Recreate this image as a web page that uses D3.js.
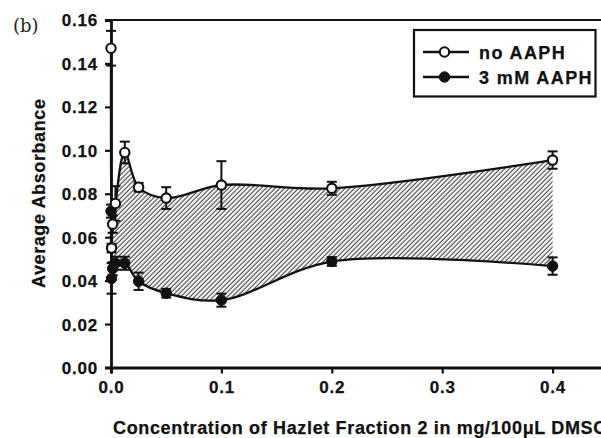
<!DOCTYPE html>
<html><head><meta charset="utf-8">
<script src="https://cdn.jsdelivr.net/npm/d3@7"></script>
<style>
html,body{margin:0;padding:0;background:#fff;}
svg{display:block;}
</style></head>
<body>
<svg id="chart" width="601" height="438"></svg>
<script>
// ---- data ----
const conc = [0, 0.0005, 0.0015, 0.004, 0.0125, 0.025, 0.05, 0.1, 0.2, 0.4];
const noAAPH = [0.147, 0.055, 0.066, 0.0755, 0.099, 0.083, 0.078, 0.084, 0.0825, 0.0955];
const noAAPHErr = [0.008, 0.002, 0.004, 0.008, 0.005, 0.002, 0.005, 0.011, 0.003, 0.004];
const aaph = [0.072, 0.041, 0.0455, 0.048, 0.048, 0.0397, 0.0342, 0.031, 0.0488, 0.0467];
const aaphErr = [0.003, 0.007, 0.003, 0.003, 0.003, 0.004, 0.002, 0.003, 0.002, 0.004];
const seriesNames = ["no AAPH", "3 mM AAPH"];
const xTicks = [0, 0.1, 0.2, 0.3, 0.4];
const yTicks = [0, 0.02, 0.04, 0.06, 0.08, 0.10, 0.12, 0.14, 0.16];
const xTitle = "Concentration of Hazlet Fraction 2 in mg/100μL DMSO";
const yTitle = "Average Absorbance";
const panelLabel = "(b)";

const SANS = "'Liberation Sans', Arial, Helvetica, sans-serif";
const INK = "#111";
const svg = d3.select("#chart");
const x = d3.scaleLinear().domain([0, 0.45]).range([111, 607.8]);
const y = d3.scaleLinear().domain([0, 0.16]).range([367.5, 20]);

function label(sel, size, ls) {
  return sel.style("font-family", SANS).style("font-weight", "bold").style("font-size", size + "px")
    .style("letter-spacing", ls + "px").style("fill", INK)
    .style("stroke", INK).style("stroke-width", "0.25px");
}

// hatch pattern
const defs = svg.append("defs");
const pat = defs.append("pattern").attr("id", "hatch").attr("patternUnits", "userSpaceOnUse")
  .attr("width", 3.3).attr("height", 10).attr("patternTransform", "rotate(45)");
pat.append("line").attr("x1", 1).attr("x2", 1).attr("y1", -1).attr("y2", 11)
  .attr("stroke", "#2a2a2a").attr("stroke-width", 1);

const upper = conc.map((c, i) => [x(c), y(noAAPH[i])]);
const lower = conc.map((c, i) => [x(c), y(aaph[i])]);
const line = d3.line().curve(d3.curveCatmullRom.alpha(0.5));
const pu = line(upper);
const pl = line(lower.slice().reverse());
svg.append("path").attr("d", pu + pl.replace(/^M/, "L") + "Z")
  .attr("fill", "url(#hatch)").attr("stroke", "none");

// frame: top border
svg.append("line").attr("x1", x(0)).attr("x2", x(0.45)).attr("y1", y(0.16)).attr("y2", y(0.16))
  .attr("stroke", INK).attr("stroke-width", 2.2);

// axes
const xAxis = d3.axisBottom(x).tickValues(xTicks).tickFormat(d3.format(".1f")).tickSizeOuter(0).tickSize(6).tickPadding(7);
const yAxis = d3.axisLeft(y).tickValues(yTicks).tickFormat(d3.format(".2f")).tickSizeOuter(0).tickSize(6).tickPadding(7);
const gx = svg.append("g").attr("transform", `translate(0,${y(0)})`).call(xAxis);
const gy = svg.append("g").attr("transform", `translate(${x(0)},0)`).call(yAxis);
[gx, gy].forEach(g => {
  g.select(".domain").attr("stroke", INK).attr("stroke-width", 2.8);
  g.selectAll(".tick line").attr("stroke", INK).attr("stroke-width", 2.2);
  label(g.selectAll(".tick text"), 17, 0.8);
});
gx.selectAll(".tick text").attr("dy", "0.71em");
gy.selectAll(".tick text").attr("dy", "0.35em");

// lines
svg.append("path").attr("d", pu).attr("fill", "none").attr("stroke", INK).attr("stroke-width", 2.3);
svg.append("path").attr("d", line(lower)).attr("fill", "none").attr("stroke", INK).attr("stroke-width", 2.3);

// error bars
function errBars(vals, errs) {
  const g = svg.append("g").attr("stroke", INK).attr("stroke-width", 2);
  conc.forEach((c, i) => {
    const cx = x(c), top = y(vals[i] + errs[i]), bot = y(vals[i] - errs[i]);
    g.append("line").attr("x1", cx).attr("x2", cx).attr("y1", top).attr("y2", bot);
    g.append("line").attr("x1", cx - 5).attr("x2", cx + 5).attr("y1", top).attr("y2", top);
    g.append("line").attr("x1", cx - 5).attr("x2", cx + 5).attr("y1", bot).attr("y2", bot);
  });
}
errBars(noAAPH, noAAPHErr);
errBars(aaph, aaphErr);

// symbols
svg.append("g").selectAll("circle").data(conc).join("circle")
  .attr("cx", d => x(d)).attr("cy", (d, i) => y(aaph[i])).attr("r", 5.2)
  .attr("fill", INK).attr("stroke", INK).attr("stroke-width", 1);
svg.append("g").selectAll("circle").data(conc).join("circle")
  .attr("cx", d => x(d)).attr("cy", (d, i) => y(noAAPH[i])).attr("r", 4.7)
  .attr("fill", "#fff").attr("stroke", INK).attr("stroke-width", 2.1);

// legend
const lg = svg.append("g");
lg.append("rect").attr("x", 414).attr("y", 30).attr("width", 181.5).attr("height", 66.5)
  .attr("fill", "#fff").attr("stroke", INK).attr("stroke-width", 2.2);
seriesNames.forEach((name, i) => {
  const ry = 52 + i * 25;
  lg.append("line").attr("x1", 423).attr("x2", 469).attr("y1", ry).attr("y2", ry)
    .attr("stroke", INK).attr("stroke-width", 2.3);
  lg.append("circle").attr("cx", 444.5).attr("cy", ry).attr("r", i === 0 ? 4.7 : 5.2)
    .attr("fill", i === 0 ? "#fff" : INK).attr("stroke", INK).attr("stroke-width", i === 0 ? 2.1 : 1);
  label(lg.append("text").attr("x", 479).attr("y", ry + 6.5), 18, 1.4).text(name);
});

// titles
label(svg.append("text").attr("x", 113).attr("y", 434), 18, 0.65).text(xTitle);
label(svg.append("text").attr("transform", "translate(45,288) rotate(-90)"), 18, 0.6).text(yTitle);
svg.append("text").attr("x", 13).attr("y", 32)
  .style("font-family", "'DejaVu Serif', 'Liberation Serif', serif").style("font-weight", "normal")
  .style("font-size", "18px").style("fill", "#222").text(panelLabel);
</script>
</body></html>
